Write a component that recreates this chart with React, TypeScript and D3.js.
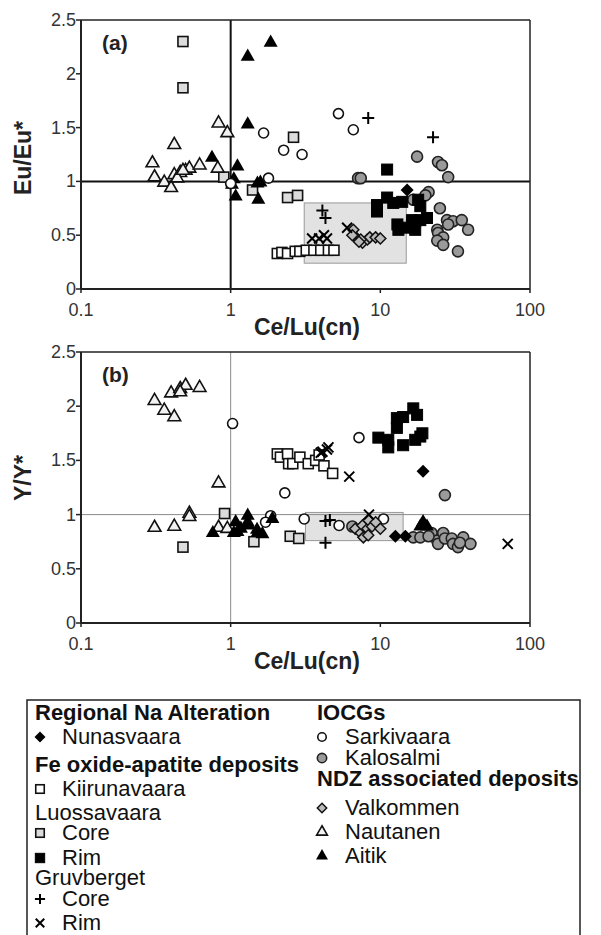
import React from "react";
import * as d3 from "d3";

type P = [number, number];

const xTicks = [0.1, 1, 10, 100];
const xTickLabels = ["0.1", "1", "10", "100"];
const yTicks = [0, 0.5, 1, 1.5, 2, 2.5];
const yTickLabels = ["0", "0.5", "1", "1.5", "2", "2.5"];

// Panel (a): Eu/Eu* vs Ce/Lu(cn)
const nautanenA: P[] = [[0.30,1.17],[0.31,1.04],[0.36,0.99],[0.40,0.94],[0.42,1.06],[0.46,1.08],[0.50,1.10],[0.53,1.12],[0.62,1.15],[0.42,1.34],[0.82,1.12],[0.83,1.54],[0.95,1.45],[0.44,1.03],[0.48,1.10]];
const aitikA: P[] = [[1.30,2.16],[1.85,2.29],[1.30,1.53],[0.75,1.22],[1.11,1.14],[1.08,0.86],[1.53,0.83],[1.51,0.98],[1.58,0.99],[1.05,1.02],[1.02,0.97]];
const luossCoreA: P[] = [[0.48,2.30],[0.48,1.87],[2.63,1.41],[0.90,1.04],[1.40,0.92],[2.4,0.85],[2.8,0.87]];
const kiirunaA: P[] = [[2.05,0.33],[2.2,0.34],[2.4,0.33],[2.7,0.35],[2.9,0.35],[3.2,0.36],[3.6,0.36],[4.0,0.36],[4.5,0.36],[4.9,0.36]];
const gruvCoreA: P[] = [[8.3,1.59],[22.5,1.41],[4.1,0.73],[4.3,0.66]];
const gruvRimA: P[] = [[3.5,0.47],[3.9,0.47],[4.4,0.47],[6.0,0.57],[4.2,0.50]];
const valkommenA: P[] = [[6.6,0.55],[7.0,0.47],[7.6,0.43],[8.2,0.46],[8.5,0.48],[9.3,0.48],[10,0.47],[6.5,0.50],[7.4,0.46],[7.2,0.44]];
const luossRimA: P[] = [[11.1,1.11],[9.5,0.78],[9.5,0.72],[11.1,0.85],[12.2,0.80],[14,0.81],[13,0.60],[13.2,0.55],[15.1,0.57],[17.1,0.55],[17.1,0.63],[18.5,0.77],[20.5,0.66],[18.5,0.64],[16.3,0.64],[17.9,0.83]];
const nunasA: P[] = [[15.1,0.92]];
const kalosA: P[] = [[17.6,1.23],[24.3,1.18],[25.8,1.15],[28.4,1.04],[7.1,1.03],[7.4,1.03],[21,0.90],[20,0.87],[16.6,0.83],[25,0.75],[27.9,0.64],[30.6,0.63],[35,0.64],[38.6,0.55],[24,0.55],[24.3,0.52],[26.3,0.48],[24,0.45],[26.3,0.41],[33,0.35],[28.4,0.60]];
const sarkiA: P[] = [[1.66,1.45],[2.26,1.29],[3.0,1.25],[5.25,1.63],[6.6,1.48],[1.79,1.03],[1.0,0.98]];
const boxA = { x0: 3.1, x1: 14.9, y0: 0.24, y1: 0.80 };

// Panel (b): Y/Y* vs Ce/Lu(cn)
const nautanenB: P[] = [[0.31,2.05],[0.36,1.96],[0.42,1.90],[0.40,2.12],[0.46,2.16],[0.50,2.19],[0.62,2.17],[0.46,2.13],[0.31,0.88],[0.42,0.89],[0.53,1.01],[0.53,0.98],[0.83,1.29],[0.83,0.88],[0.95,0.87]];
const aitikB: P[] = [[0.76,0.83],[1.08,0.93],[1.11,0.84],[1.30,0.99],[1.32,0.90],[1.51,0.83],[1.63,0.82],[1.9,0.96],[1.05,0.83],[1.17,0.87],[19.3,0.93],[18.5,0.89],[20.5,0.89],[1.3,0.93],[1.5,0.86]];
const luossCoreB: P[] = [[0.48,0.70],[0.91,1.01],[1.43,0.75],[2.5,0.80],[2.85,0.78]];
const kiirunaB: P[] = [[2.05,1.56],[2.15,1.53],[2.4,1.56],[2.44,1.47],[2.6,1.47],[2.9,1.53],[3.3,1.47],[3.7,1.50],[3.9,1.55],[4.2,1.45],[4.8,1.38]];
const luossRimB: P[] = [[9.7,1.71],[11.3,1.62],[12.9,1.89],[14.2,1.90],[16.6,1.98],[17.6,1.92],[14.2,1.64],[17.1,1.69],[19.1,1.75],[12.9,1.80],[11.3,1.69],[18.5,1.72]];
const nunasB: P[] = [[19.3,1.40],[12.6,0.80],[14.7,0.80]];
const sarkiB: P[] = [[1.03,1.84],[7.2,1.71],[2.3,1.20],[1.85,0.99],[1.71,0.93],[3.1,0.96],[5.3,0.90],[10.5,0.96]];
const kalosB: P[] = [[27,1.18],[16.6,0.79],[18.5,0.79],[22,0.83],[24,0.76],[24.3,0.73],[26.3,0.83],[27,0.78],[30,0.78],[30.6,0.73],[33,0.70],[35.8,0.79],[40,0.73],[34,0.74],[6.5,0.89],[21,0.80]];
const valkommenB: P[] = [[6.8,0.87],[7.4,0.83],[7.6,0.90],[8.2,0.87],[8.3,0.95],[8.8,0.89],[10,0.87],[9.3,0.93],[7.7,0.79],[8.3,0.81]];
const gruvRimB: P[] = [[71,0.73],[6.2,1.35],[4.1,1.58],[4.4,1.60],[4.5,1.62],[4.0,1.57],[8.4,1.00]];
const gruvCoreB: P[] = [[4.3,0.94],[4.3,0.74],[4.6,0.95]];
const boxB = { x0: 3.16, x1: 14.2, y0: 0.76, y1: 1.02 };

const FONT = "'Liberation Sans', Arial, Helvetica, sans-serif";

type Kind = "diamondBlack" | "squareWhite" | "squareGray" | "squareBlack" | "plus" | "cross" | "circleWhite" | "circleGray" | "diamondGray" | "triWhite" | "triBlack";

const diamond = (r: number) => `M0,${-r}L${r},0L0,${r}L${-r},0Z`;

function Marker({ kind, x, y, s = 1 }: { kind: Kind; x: number; y: number; s?: number }) {
  const t = `translate(${x},${y})`;
  const sw = 1.6;
  switch (kind) {
    case "squareWhite":
      return <rect x={x - 5 * s} y={y - 5 * s} width={10 * s} height={10 * s} fill="#fff" stroke="#111" strokeWidth={sw} />;
    case "squareGray":
      return <rect x={x - 5 * s} y={y - 5 * s} width={10 * s} height={10 * s} fill="#dcdcdc" stroke="#111" strokeWidth={sw} />;
    case "squareBlack":
      return <rect x={x - 5.5 * s} y={y - 5.5 * s} width={11 * s} height={11 * s} fill="#000" stroke="#000" strokeWidth={1} />;
    case "circleWhite":
      return <circle cx={x} cy={y} r={5 * s} fill="#fff" stroke="#111" strokeWidth={sw} />;
    case "circleGray":
      return <circle cx={x} cy={y} r={5.5 * s} fill="#9a9a9a" stroke="#222" strokeWidth={sw} />;
    case "diamondBlack":
      return <path transform={t} d={diamond(6.5 * s)} fill="#000" />;
    case "diamondGray":
      return <path transform={t} d={diamond(5.5 * s)} fill="#bbb" stroke="#111" strokeWidth={1.5} />;
    case "triWhite":
      return <path transform={t} d={d3.symbol(d3.symbolTriangle, 70 * s * s)() || ""} fill="#f2f2f2" stroke="#111" strokeWidth={sw} />;
    case "triBlack":
      return <path transform={t} d={d3.symbol(d3.symbolTriangle, 85 * s * s)() || ""} fill="#000" />;
    case "plus":
      return <path transform={t} d={`M${-6 * s},0H${6 * s}M0,${-6 * s}V${6 * s}`} stroke="#000" strokeWidth={2} fill="none" />;
    case "cross":
      return <path transform={t} d={`M${-5 * s},${-5 * s}L${5 * s},${5 * s}M${-5 * s},${5 * s}L${5 * s},${-5 * s}`} stroke="#000" strokeWidth={2} fill="none" />;
  }
  return null;
}

const X0 = 81, X1 = 530;

function Panel({ top, bottom, label, yTitle, yTitleY, bold, series, box }: {
  top: number; bottom: number; label: string; yTitle: string; yTitleY: number; bold: boolean;
  series: { kind: Kind; data: P[] }[]; box: { x0: number; x1: number; y0: number; y1: number };
}) {
  const x = d3.scaleLog().domain([0.1, 100]).range([X0, X1]);
  const y = d3.scaleLinear().domain([0, 2.5]).range([bottom, top]);
  return (
    <g>
      <rect x={x(box.x0)} y={y(box.y1)} width={x(box.x1) - x(box.x0)} height={y(box.y0) - y(box.y1)} fill="#e2e2e2" stroke="#999" strokeWidth={1} />
      {bold ? (
        <g>
          <line x1={x(1)} x2={x(1)} y1={top} y2={bottom} stroke="#111" strokeWidth={2} />
          <line x1={X0} x2={X1} y1={y(1)} y2={y(1)} stroke="#111" strokeWidth={2} />
        </g>
      ) : (
        <g>
          <line x1={x(1)} x2={x(1)} y1={top} y2={bottom} stroke="#8a8a8a" strokeWidth={1} />
          <line x1={X0} x2={X1} y1={y(1)} y2={y(1)} stroke="#8a8a8a" strokeWidth={1} />
        </g>
      )}
      {series.map((s, i) => (
        <g key={i}>
          {s.data.map((d, j) => <Marker key={j} kind={s.kind} x={x(d[0])} y={y(d[1])} />)}
        </g>
      ))}
      <line x1={X0} x2={X1} y1={top} y2={top} stroke="#222" strokeWidth={1.5} />
      <line x1={X1} x2={X1} y1={top} y2={bottom} stroke="#222" strokeWidth={1.5} />
      <line x1={X0} x2={X0} y1={top} y2={bottom} stroke="#222" strokeWidth={2} />
      <line x1={X0} x2={X1} y1={bottom} y2={bottom} stroke="#222" strokeWidth={2} />
      {yTicks.map((t, i) => (
        <g key={i}>
          <line x1={X0 - 5} x2={X0} y1={y(t)} y2={y(t)} stroke="#222" strokeWidth={1.5} />
          <text x={X0 - 5} y={y(t) + 6} textAnchor="end" fontSize={18} fill="#333" fontFamily={FONT}>{yTickLabels[i]}</text>
        </g>
      ))}
      {xTicks.map((t, i) => (
        <g key={i}>
          <line x1={x(t)} x2={x(t)} y1={bottom} y2={bottom + 4} stroke="#222" strokeWidth={1.5} />
          <text x={x(t)} y={bottom + 27} textAnchor="middle" fontSize={18} fill="#333" fontFamily={FONT}>{xTickLabels[i]}</text>
        </g>
      ))}
      <text x={307} y={bottom + 46} textAnchor="middle" fontSize={23} fontWeight="bold" fill="#222" fontFamily={FONT}>Ce/Lu(cn)</text>
      <text transform={`translate(31,${yTitleY}) rotate(-90)`} textAnchor="middle" fontSize={23} fontWeight="bold" fill="#222" fontFamily={FONT}>{yTitle}</text>
      <text x={102} y={top + 30} fontSize={21} fontWeight="bold" fill="#222" fontFamily={FONT}>{label}</text>
    </g>
  );
}

const legendLeft: { kind: Kind | null; text: string; bold?: boolean; y: number }[] = [
  { kind: null, text: "Regional Na Alteration", bold: true, y: 720 },
  { kind: "diamondBlack", text: "Nunasvaara", y: 744 },
  { kind: null, text: "Fe oxide-apatite deposits", bold: true, y: 772 },
  { kind: "squareWhite", text: "Kiirunavaara", y: 796 },
  { kind: null, text: "Luossavaara", y: 820 },
  { kind: "squareGray", text: "Core", y: 840 },
  { kind: "squareBlack", text: "Rim", y: 865 },
  { kind: null, text: "Gruvberget", y: 885 },
  { kind: "plus", text: "Core", y: 906 },
  { kind: "cross", text: "Rim", y: 930 },
];
const legendRight: { kind: Kind | null; text: string; bold?: boolean; y: number }[] = [
  { kind: null, text: "IOCGs", bold: true, y: 720 },
  { kind: "circleWhite", text: "Sarkivaara", y: 744 },
  { kind: "circleGray", text: "Kalosalmi", y: 765 },
  { kind: null, text: "NDZ associated deposits", bold: true, y: 786 },
  { kind: "diamondGray", text: "Valkommen", y: 815 },
  { kind: "triWhite", text: "Nautanen", y: 839 },
  { kind: "triBlack", text: "Aitik", y: 863 },
];

export default function App() {
  const seriesA = [
    { kind: "squareGray" as Kind, data: luossCoreA },
    { kind: "squareWhite" as Kind, data: kiirunaA },
    { kind: "triWhite" as Kind, data: nautanenA },
    { kind: "triBlack" as Kind, data: aitikA },
    { kind: "circleWhite" as Kind, data: sarkiA },
    { kind: "circleGray" as Kind, data: kalosA },
    { kind: "squareBlack" as Kind, data: luossRimA },
    { kind: "diamondGray" as Kind, data: valkommenA },
    { kind: "diamondBlack" as Kind, data: nunasA },
    { kind: "plus" as Kind, data: gruvCoreA },
    { kind: "cross" as Kind, data: gruvRimA },
  ];
  const seriesB = [
    { kind: "squareGray" as Kind, data: luossCoreB },
    { kind: "squareWhite" as Kind, data: kiirunaB },
    { kind: "triWhite" as Kind, data: nautanenB },
    { kind: "circleWhite" as Kind, data: sarkiB },
    { kind: "circleGray" as Kind, data: kalosB },
    { kind: "squareBlack" as Kind, data: luossRimB },
    { kind: "diamondGray" as Kind, data: valkommenB },
    { kind: "diamondBlack" as Kind, data: nunasB },
    { kind: "triBlack" as Kind, data: aitikB },
    { kind: "plus" as Kind, data: gruvCoreB },
    { kind: "cross" as Kind, data: gruvRimB },
  ];
  return (
    <svg width={601} height={935} style={{ position: "absolute", left: 0, top: 0, background: "#fff" }}>
      <rect x={0} y={0} width={601} height={935} fill="#fff" />
      <Panel top={20} bottom={289} label="(a)" yTitle="Eu/Eu*" yTitleY={158} bold={true} series={seriesA} box={boxA} />
      <Panel top={352} bottom={623} label="(b)" yTitle="Y/Y*" yTitleY={478} bold={false} series={seriesB} box={boxB} />
      <rect x={27} y={700} width={553} height={260} fill="none" stroke="#222" strokeWidth={1.5} />
      {legendLeft.map((l, i) => (
        <g key={i}>
          {l.kind && <Marker kind={l.kind} x={40} y={l.y - 7} s={0.85} />}
          <text x={l.kind ? 62 : 35} y={l.y} fontSize={22} fontWeight={l.bold ? "bold" : "normal"} fill="#111" fontFamily={FONT}>{l.text}</text>
        </g>
      ))}
      {legendRight.map((l, i) => (
        <g key={i}>
          {l.kind && <Marker kind={l.kind} x={322} y={l.y - 7} s={0.85} />}
          <text x={l.kind ? 345 : 317} y={l.y} fontSize={22} fontWeight={l.bold ? "bold" : "normal"} fill="#111" fontFamily={FONT}>{l.text}</text>
        </g>
      ))}
    </svg>
  );
}
